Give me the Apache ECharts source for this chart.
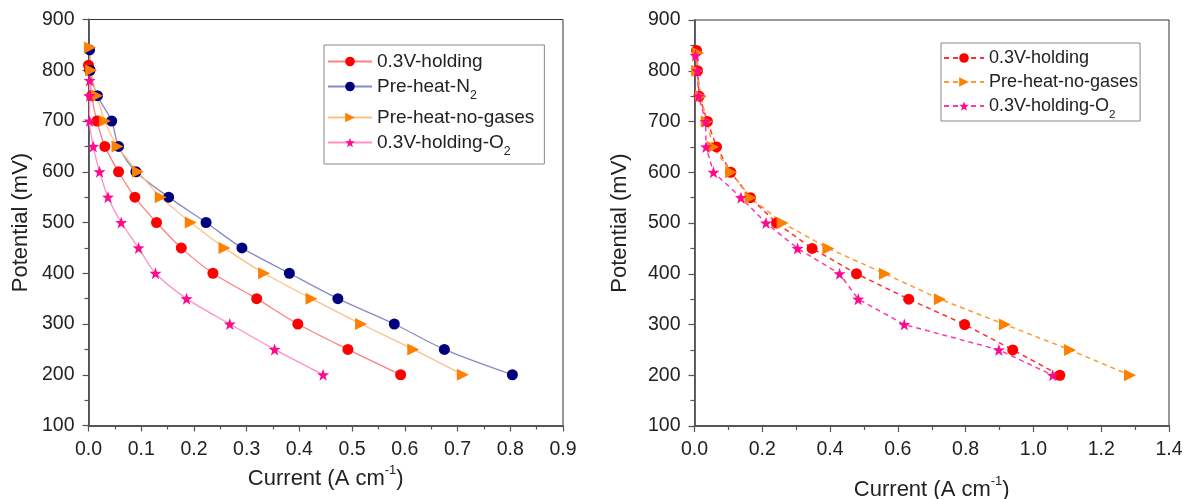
<!DOCTYPE html>
<html><head><meta charset="utf-8">
<script src="https://cdn.jsdelivr.net/npm/echarts@6/dist/echarts.min.js"></script>
<style>html,body{margin:0;padding:0;background:#fff}#c{width:1188px;height:499px}</style>
</head><body><div id="c"></div>
<script>
// ---------- DATA ----------
// Left panel (potential mV vs current A cm-1)
const potL_hold   = [810, 800, 750, 700, 650, 600, 550, 500, 450, 400, 350, 300, 250, 200];
const curL_hold   = [0.000, 0.002, 0.006, 0.016, 0.031, 0.057, 0.088, 0.129, 0.176, 0.236, 0.319, 0.397, 0.492, 0.592];
const potL_N2     = [840, 800, 750, 700, 650, 600, 550, 500, 450, 400, 350, 300, 250, 200];
const curL_N2     = [0.002, 0.003, 0.017, 0.044, 0.057, 0.090, 0.152, 0.223, 0.291, 0.381, 0.473, 0.580, 0.675, 0.804];
const potL_noGas  = [845, 800, 750, 700, 650, 600, 550, 500, 450, 400, 350, 300, 250, 200];
const curL_noGas  = [0.003, 0.005, 0.016, 0.031, 0.055, 0.094, 0.137, 0.194, 0.258, 0.333, 0.423, 0.517, 0.616, 0.710];
const potL_O2     = [780, 750, 700, 650, 600, 550, 500, 450, 400, 350, 300, 250, 200];
const curL_O2     = [0.002, 0.002, 0.002, 0.009, 0.021, 0.037, 0.062, 0.095, 0.127, 0.186, 0.268, 0.353, 0.445];
// Right panel
const potR_hold   = [840, 800, 750, 700, 650, 600, 550, 500, 450, 400, 350, 300, 250, 200];
const curR_hold   = [0.006, 0.009, 0.014, 0.038, 0.065, 0.107, 0.165, 0.242, 0.347, 0.478, 0.632, 0.797, 0.939, 1.078];
const potR_noGas  = [835, 800, 750, 700, 650, 600, 550, 500, 450, 400, 350, 300, 250, 200];
const curR_noGas  = [0.011, 0.008, 0.019, 0.036, 0.055, 0.108, 0.165, 0.260, 0.395, 0.562, 0.724, 0.916, 1.108, 1.285];
const potR_O2     = [830, 800, 750, 700, 650, 600, 550, 500, 450, 400, 350, 300, 250, 200];
const curR_O2     = [0.003, 0.008, 0.012, 0.033, 0.034, 0.056, 0.137, 0.211, 0.304, 0.428, 0.483, 0.619, 0.898, 1.057];

const namesLeft  = ['0.3V-holding', 'Pre-heat-N2', 'Pre-heat-no-gases', '0.3V-holding-O2'];
const namesRight = ['0.3V-holding', 'Pre-heat-no-gases', '0.3V-holding-O2'];
const xTitle = 'Current (A cm';
const yTitle = 'Potential (mV)';

// ---------- STYLE ----------
function starPath() {
  let pts = [];
  for (let i = 0; i < 10; i++) {
    const r = i % 2 === 0 ? 50 : 20;
    const a = -Math.PI / 2 + i * Math.PI / 5;
    pts.push((50 + r * Math.cos(a)).toFixed(2) + ',' + (50 + r * Math.sin(a)).toFixed(2));
  }
  return 'path://M' + pts.join('L') + 'Z';
}
const STAR = starPath();
const zip = (xs, ys) => xs.map((x, i) => [x, ys[i]]);
const FONT = 'Liberation Sans, Arial, sans-serif';

const chart = echarts.init(document.getElementById('c'), null, {renderer: 'canvas'});

function xAxisCfg(gi, max, interval, nameGap) {
  return {
    gridIndex: gi, type: 'value', min: 0, max: max, interval: interval,
    name: '{t|' + xTitle + '}{s|-1}{t|)}', nameLocation: 'middle', nameGap: nameGap,
    nameTextStyle: { rich: {
      t: {fontSize: 22, fontFamily: FONT, color: '#222', lineHeight: 26, verticalAlign: 'bottom'},
      s: {fontSize: 13, fontFamily: FONT, color: '#222', lineHeight: 26, verticalAlign: 'top', padding: [0, 0, 9, 0]}
    }},
    axisLine: {show: true, onZero: false, lineStyle: {color: '#555', width: 1.8}},
    axisTick: {show: true, length: 6, lineStyle: {color: '#555', width: 1.2}},
    minorTick: {show: true, splitNumber: 2, length: 4, lineStyle: {color: '#555', width: 1.2}},
    splitLine: {show: false},
    axisLabel: {fontSize: 19.5, fontFamily: FONT, color: '#222', margin: 14,
      formatter: v => v.toFixed(1)}
  };
}
function yAxisCfg(gi, nameGap) {
  return {
    gridIndex: gi, type: 'value', min: 100, max: 900, interval: 100,
    name: yTitle, nameLocation: 'middle', nameGap: nameGap, nameRotate: 90,
    nameTextStyle: {fontSize: 22, fontFamily: FONT, color: '#222'},
    axisLine: {show: true, onZero: false, lineStyle: {color: '#555', width: 1.8}},
    axisTick: {show: true, length: 6, lineStyle: {color: '#555', width: 1.2}},
    minorTick: {show: true, splitNumber: 2, length: 4, lineStyle: {color: '#555', width: 1.2}},
    splitLine: {show: false},
    axisLabel: {fontSize: 19.5, fontFamily: FONT, color: '#222', margin: 14}
  };
}

function leftSeries(name, xs, ys, color, lineColor, symbol, size, rot) {
  return {
    name: name, type: 'line', xAxisIndex: 0, yAxisIndex: 0,
    data: zip(xs, ys), smooth: 0.3, symbol: symbol, symbolSize: size, symbolRotate: rot || 0,
    itemStyle: {color: color, borderColor: color, borderWidth: 0},
    lineStyle: {color: lineColor, width: 1.3},
    emphasis: {disabled: true}, z: 3
  };
}
function rightSeries(name, xs, ys, color, lineColor, symbol, size, rot) {
  return {
    name: 'R:' + name, type: 'line', xAxisIndex: 1, yAxisIndex: 1,
    data: zip(xs, ys), smooth: false, symbol: symbol, symbolSize: size, symbolRotate: rot || 0,
    itemStyle: {color: color, borderWidth: 0},
    lineStyle: {color: lineColor, width: 1.5, type: [5, 4]},
    emphasis: {disabled: true}, z: 3
  };
}

const legendFmt = n => {
  const s = n.replace(/^R:/, '');
  return s.replace(/(N|O)2$/, '$1{sub|2}');
};
const legendText = (fs) => ({
  fontSize: fs, fontFamily: FONT, color: '#222',
  rich: {sub: {fontSize: fs * 0.65, fontFamily: FONT, color: '#222', verticalAlign: 'bottom', padding: [0, 0, -6, 0]}}
});

const option = {
  backgroundColor: '#fff',
  animation: false,
  grid: [
    {left: 88.5, top: 19.5, width: 474.5, height: 406, show: true, borderColor: '#333', borderWidth: 1,
     backgroundColor: 'transparent', outerBoundsMode: 'none', containLabel: false},
    {left: 694.5, top: 20, width: 474.5, height: 406, show: true, borderColor: '#333', borderWidth: 1,
     backgroundColor: 'transparent', outerBoundsMode: 'none', containLabel: false}
  ],
  xAxis: [xAxisCfg(0, 0.9, 0.1, 38), xAxisCfg(1, 1.4, 0.2, 49)],
  yAxis: [yAxisCfg(0, 57), yAxisCfg(1, 64)],
  legend: [
    {
      data: namesLeft, orient: 'vertical', left: 324, top: 45,
      padding: [7, 10, 6, 3], itemGap: 6, itemWidth: 44, itemHeight: 12,
      borderColor: '#888', borderWidth: 1, backgroundColor: '#fff',
      formatter: legendFmt, textStyle: legendText(19), selectedMode: false
    },
    {
      data: namesRight.map(n => 'R:' + n), orient: 'vertical', left: 941, top: 43,
      padding: [6, 2, 0, 2], itemGap: 6, itemWidth: 40, itemHeight: 12,
      borderColor: '#888', borderWidth: 1, backgroundColor: '#fff',
      formatter: legendFmt, textStyle: legendText(18), selectedMode: false
    }
  ],
  series: [
    leftSeries(namesLeft[0], curL_hold, potL_hold, '#ff0000', '#ff8080', 'circle', 11),
    leftSeries(namesLeft[1], curL_N2, potL_N2, '#00007f', '#8a8ac8', 'circle', 11),
    leftSeries(namesLeft[2], curL_noGas, potL_noGas, '#ff8000', '#ffc088', 'triangle', 12, -90),
    leftSeries(namesLeft[3], curL_O2, potL_O2, '#ff0a8c', '#ff90c8', STAR, 12),
    rightSeries(namesRight[0], curR_hold, potR_hold, '#ff0000', '#ff3030', 'circle', 11),
    rightSeries(namesRight[1], curR_noGas, potR_noGas, '#ff8000', '#ff9a30', 'triangle', 12, -90),
    rightSeries(namesRight[2], curR_O2, potR_O2, '#ff0a8c', '#ff3aa8', STAR, 12)
  ]
};
chart.setOption(option);
</script>
</body></html>
